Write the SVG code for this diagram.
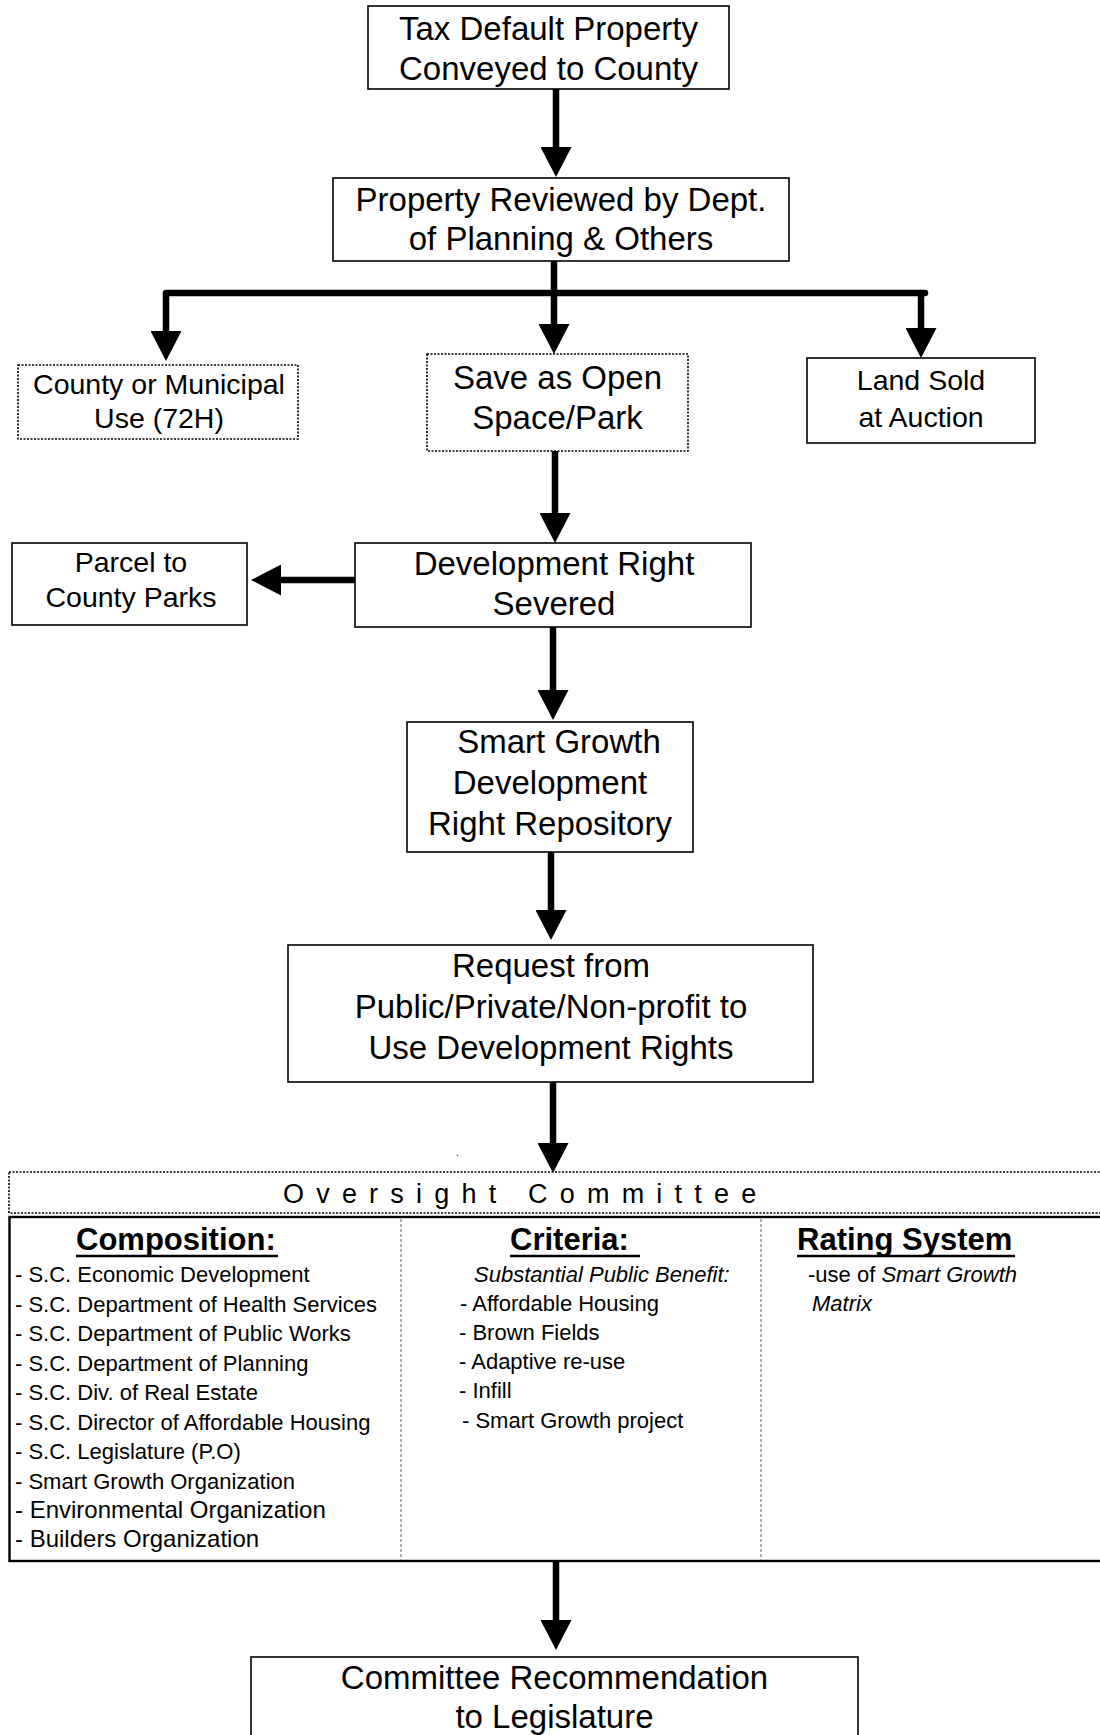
<svg xmlns="http://www.w3.org/2000/svg" width="1100" height="1735" viewBox="0 0 1100 1735">
<style>
text{font-family:"Liberation Sans",Arial,sans-serif;fill:#000}
.b{fill:#fff;stroke:#000;stroke-width:1.6}
.d{fill:#fff;stroke:#000;stroke-width:1.6;stroke-dasharray:2 1.5}
.t33{font-size:33px;text-anchor:middle}
.t28{font-size:28.5px;text-anchor:middle}
.h{font-size:31px;font-weight:bold}
.l{font-size:22px}
.c{fill:none;stroke:#000;stroke-width:6.5}
.div{stroke:#888;stroke-width:1.3;stroke-dasharray:3 2}
.ul{stroke:#000;stroke-width:2.6}
</style>
<defs>
<marker id="ah" markerUnits="userSpaceOnUse" markerWidth="31" markerHeight="31" refX="2" refY="15.5" orient="auto" viewBox="0 0 31 31">
<path d="M0,0 L30,15.5 L0,31 Z" fill="#000"/>
</marker>
</defs>
<g id="connectors">
<path class="c" d="M556,89 V149" marker-end="url(#ah)"/>
<path class="c" d="M554,261 V326" marker-end="url(#ah)"/>
<path class="c" d="M166,293 H925" stroke-linecap="round"/>
<path class="c" d="M166,293 V333" marker-end="url(#ah)"/>
<path class="c" d="M921,293 V330" marker-end="url(#ah)"/>
<path class="c" d="M555,451 V515" marker-end="url(#ah)"/>
<path class="c" d="M355,580 H279" marker-end="url(#ah)"/>
<path class="c" d="M553,627 V692" marker-end="url(#ah)"/>
<path class="c" d="M551,852 V912" marker-end="url(#ah)"/>
<path class="c" d="M553,1082 V1145" marker-end="url(#ah)"/>
<path class="c" d="M556,1561 V1622" marker-end="url(#ah)"/>
</g>
<g id="n1">
<rect class="b" x="368" y="6" width="361" height="83"/>
<text class="t33" x="548.5" y="40">Tax Default Property</text>
<text class="t33" x="548.5" y="80">Conveyed to County</text>
</g>
<g id="n2">
<rect class="b" x="333" y="178" width="456" height="83"/>
<text class="t33" x="561" y="211">Property Reviewed by Dept.</text>
<text class="t33" x="561" y="250">of Planning &amp; Others</text>
</g>
<g id="n3">
<rect class="d" x="18" y="365" width="280" height="74"/>
<text class="t28" x="159" y="394">County or Municipal</text>
<text class="t28" x="159" y="428">Use (72H)</text>
</g>
<g id="n4">
<rect class="d" x="427" y="354" width="261" height="97"/>
<text class="t33" x="557.5" y="388.5">Save as Open</text>
<text class="t33" x="557.5" y="428.5">Space/Park</text>
</g>
<g id="n5">
<rect class="b" x="807" y="358" width="228" height="85"/>
<text class="t28" x="921" y="390">Land Sold</text>
<text class="t28" x="921" y="427">at Auction</text>
</g>
<g id="n6">
<rect class="b" x="12" y="543" width="235" height="82"/>
<text class="t28" x="131" y="572">Parcel to</text>
<text class="t28" x="131" y="607">County Parks</text>
</g>
<g id="n7">
<rect class="b" x="355" y="543" width="396" height="84"/>
<text class="t33" x="554" y="575">Development Right</text>
<text class="t33" x="554" y="615">Severed</text>
</g>
<g id="n8">
<rect class="b" x="407" y="722" width="286" height="130"/>
<text class="t33" x="559" y="753">Smart Growth</text>
<text class="t33" x="550" y="794">Development</text>
<text class="t33" x="550" y="835">Right Repository</text>
</g>
<g id="n9">
<rect class="b" x="288" y="945" width="525" height="137"/>
<text class="t33" x="551" y="977">Request from</text>
<text class="t33" x="551" y="1018">Public/Private/Non-profit to</text>
<text class="t33" x="551" y="1059">Use Development Rights</text>
</g>
<text x="456" y="1156" style="font-size:10px">.</text>
<g id="n10">
<rect class="d" x="9" y="1172" width="1110" height="41"/>
<text x="283" y="1203" style="font-size:27px;letter-spacing:12.2px">Oversight Committee</text>
<rect x="9.5" y="1217" width="1110" height="344" fill="#fff" stroke="#000" stroke-width="2.4"/>
<line class="div" x1="401" y1="1219" x2="401" y2="1560"/>
<line class="div" x1="761" y1="1219" x2="761" y2="1560"/>
<text class="h" x="76" y="1250">Composition:</text>
<line class="ul" x1="76" y1="1256" x2="278" y2="1256"/>
<text class="h" x="510" y="1250">Criteria:</text>
<line class="ul" x1="510" y1="1256" x2="640" y2="1256"/>
<text class="h" x="797" y="1250">Rating System</text>
<line class="ul" x1="797" y1="1256" x2="1015" y2="1256"/>
<g class="l">
<text x="15" y="1282">- S.C. Economic Development</text>
<text x="15" y="1311.5">- S.C. Department of Health Services</text>
<text x="15" y="1341">- S.C. Department of Public Works</text>
<text x="15" y="1370.5">- S.C. Department of Planning</text>
<text x="15" y="1400">- S.C. Div. of Real Estate</text>
<text x="15" y="1429.5">- S.C. Director of Affordable Housing</text>
<text x="15" y="1459">- S.C. Legislature (P.O)</text>
<text x="15" y="1488.5">- Smart Growth Organization</text>
<text x="15" y="1518" style="font-size:24px">- Environmental Organization</text>
<text x="15" y="1547" style="font-size:24px">- Builders Organization</text>
<text x="474" y="1282" font-style="italic">Substantial Public Benefit:</text>
<text x="460" y="1311">- Affordable Housing</text>
<text x="459" y="1340">- Brown Fields</text>
<text x="459" y="1369">- Adaptive re-use</text>
<text x="459" y="1398">- Infill</text>
<text x="462" y="1428">- Smart Growth project</text>
<text x="808" y="1282">-use of <tspan font-style="italic">Smart Growth</tspan></text>
<text x="812" y="1311" font-style="italic">Matrix</text>
</g>
</g>
<g id="n11">
<rect class="b" x="251" y="1657" width="607" height="100"/>
<text class="t33" x="554.5" y="1689">Committee Recommendation</text>
<text class="t33" x="554.5" y="1728">to Legislature</text>
</g>
</svg>
